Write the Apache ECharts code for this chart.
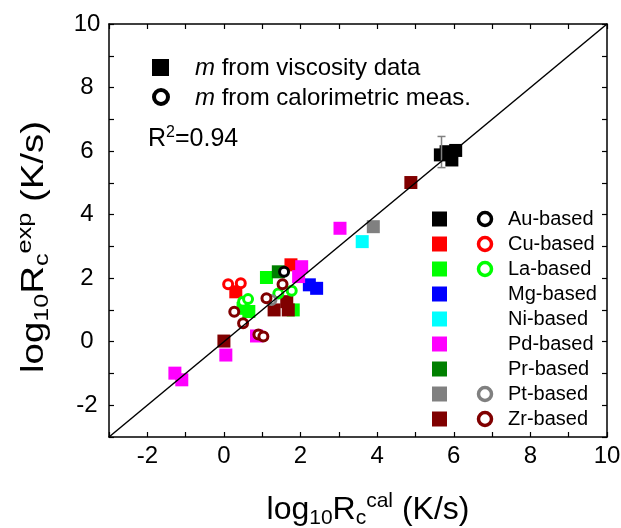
<!DOCTYPE html>
<html>
<head>
<meta charset="utf-8">
<script src="https://cdn.jsdelivr.net/npm/echarts@6/dist/echarts.min.js"></script>
<style>
  html, body { margin: 0; padding: 0; background: #fff; }
  #main { width: 621px; height: 528px; }
</style>
</head>
<body>
<div id="main"></div>
<script>
// groups of glasses, colours as in the original figure
var groups = ['Au-based', 'Cu-based', 'La-based', 'Mg-based', 'Ni-based', 'Pd-based', 'Pr-based', 'Pt-based', 'Zr-based'];
var colors = ['#000000', '#ff0000', '#00ff00', '#0000ff', '#00ffff', '#ff00ff', '#008000', '#808080', '#800000'];

// m from viscosity data  [log10Rc_cal, log10Rc_exp]
var viscAu = [[5.65, 5.88], [5.8, 5.98], [5.95, 5.72], [6.05, 6.02]];
var viscCu = [[0.31, 1.57], [1.75, 2.42]];
var viscLa = [[0.5, 1.05], [0.65, 0.95], [1.11, 2.02], [1.81, 1.0]];
var viscMg = [[2.23, 1.79], [2.42, 1.68]];
var viscNi = [[3.61, 3.15]];
var viscPd = [[-1.28, -0.99], [-1.1, -1.2], [0.05, -0.42], [0.85, 0.18], [1.95, 2.05], [2.03, 2.36], [3.03, 3.57]];
var viscPr = [[1.42, 2.2]];
var viscPt = [[3.9, 3.62]];
var viscZr = [[0.0, 0.02], [1.31, 1.0], [1.64, 1.26], [1.68, 1.0], [4.88, 5.01]];

// m from calorimetric measurements
var calAu = [[1.57, 2.2]];
var calCu = [[0.11, 1.81], [0.44, 1.84]];
var calLa = [[0.5, 1.26], [0.63, 1.34], [1.42, 1.52], [1.77, 1.6]];
var calPt = [[1.24, 1.31]];
var calZr = [[0.27, 0.94], [0.5, 0.58], [0.9, 0.23], [1.03, 0.16], [1.11, 1.37], [1.53, 1.81]];

// error bar on one Au point: [x, low, high]
var errAu = [[5.68, 5.48, 6.46]];

// y = x reference line
var lineX = [-3, 10];

var viscData = [viscAu, viscCu, viscLa, viscMg, viscNi, viscPd, viscPr, viscPt, viscZr];
var calData = [calAu, calCu, calLa, null, null, null, null, calPt, calZr];

var FONT = '"Liberation Sans", Arial, sans-serif';

var series = [];
groups.forEach(function (g, i) {
    series.push({
        name: g,
        type: 'scatter',
        symbol: 'rect',
        symbolSize: 13,
        itemStyle: { color: colors[i], opacity: 1 },
        data: viscData[i],
        z: 2
    });
});
groups.forEach(function (g, i) {
    if (!calData[i]) return;
    series.push({
        name: g + ' (cal)',
        type: 'scatter',
        symbol: 'circle',
        symbolSize: 9,
        itemStyle: { color: '#fff', borderColor: colors[i], borderWidth: 3, opacity: 1 },
        data: calData[i],
        z: 3
    });
});
series.push({
    type: 'custom',
    z: 4,
    data: errAu,
    renderItem: function (params, api) {
        var top = api.coord([api.value(0), api.value(2)]);
        var bot = api.coord([api.value(0), api.value(1)]);
        var w = 4;
        var st = { stroke: '#808080', lineWidth: 1.5 };
        return {
            type: 'group',
            children: [
                { type: 'line', shape: { x1: top[0], y1: top[1], x2: bot[0], y2: bot[1] }, style: st },
                { type: 'line', shape: { x1: top[0] - w, y1: top[1], x2: top[0] + w, y2: top[1] }, style: st },
                { type: 'line', shape: { x1: bot[0] - w, y1: bot[1], x2: bot[0] + w, y2: bot[1] }, style: st }
            ]
        };
    }
});
series.push({
    type: 'line',
    data: lineX.map(function (v) { return [v, v]; }),
    symbol: 'none',
    lineStyle: { color: '#000', width: 1.5 },
    z: 5,
    silent: true
});

function evenLabel(v) { return (Math.round(v) % 2 === 0) ? String(v) : ''; }

var axisBase = {
    type: 'value', min: -3, max: 10, interval: 1,
    axisLine: { show: true, onZero: false, lineStyle: { color: '#000', width: 1.5 } },
    axisTick: { show: true, inside: true, length: 5, lineStyle: { color: '#000', width: 1.2 } },
    splitLine: { show: false }
};

var subStyle = { fontSize: 21, fontFamily: FONT, color: '#000', padding: [17, 0, 0, 0] };
var supStyle = { fontSize: 21, fontFamily: FONT, color: '#000', padding: [0, 0, 17, 0] };

// legend built from graphic elements (two symbol columns)
var legendG = [];
var circleRows = { 0: 1, 1: 1, 2: 1, 7: 1, 8: 1 };
groups.forEach(function (g, i) {
    var y = 219 + 25 * i;
    legendG.push({ type: 'rect', shape: { x: 432, y: y - 7.5, width: 15, height: 15 }, style: { fill: colors[i] } });
    if (circleRows[i]) {
        legendG.push({ type: 'circle', shape: { cx: 485, cy: y, r: 6.5 }, style: { fill: '#fff', stroke: colors[i], lineWidth: 3.5 } });
    }
    legendG.push({ type: 'text', x: 508, y: y, style: { text: g, font: '20px ' + FONT, fill: '#000', verticalAlign: 'middle' } });
});
legendG.push({ type: 'rect', shape: { x: 152, y: 59, width: 17, height: 17 }, style: { fill: '#000' } });
legendG.push({ type: 'circle', shape: { cx: 161, cy: 97, r: 7 }, style: { fill: '#fff', stroke: '#000', lineWidth: 4 } });
legendG.push({ type: 'text', x: 195, y: 68, style: {
    text: '{i|m} from viscosity data', font: '24px ' + FONT, fill: '#000', verticalAlign: 'middle',
    rich: { i: { fontStyle: 'italic', fontSize: 24, fontFamily: FONT } } } });
legendG.push({ type: 'text', x: 195, y: 98, style: {
    text: '{i|m} from calorimetric meas.', font: '24px ' + FONT, fill: '#000', verticalAlign: 'middle',
    rich: { i: { fontStyle: 'italic', fontSize: 24, fontFamily: FONT } } } });
legendG.push({ type: 'text', x: 148, y: 139, style: {
    text: 'R{s|2}=0.94', font: '25px ' + FONT, fill: '#000', verticalAlign: 'middle',
    rich: { s: { fontSize: 16, fontFamily: FONT, padding: [0, 0, 13, 0] } } } });
// y axis title, stretched along its length like the original
legendG.push({ type: 'text', x: 34, y: 247, rotation: Math.PI / 2, scaleX: 1.2, style: {
    text: 'log{sub|10}R{sub|c}{sup|exp} (K/s)', font: '32px ' + FONT, fill: '#000',
    align: 'center', verticalAlign: 'middle', rich: { sub: subStyle, sup: supStyle } } });

var option = {
    animation: false,
    backgroundColor: '#fff',
    grid: { left: 109, right: 14, top: 24, bottom: 91, outerBoundsMode: 'none', containLabel: false },
    xAxis: [
        Object.assign({}, axisBase, {
            position: 'bottom',
            axisLabel: { formatter: evenLabel, fontSize: 24, fontFamily: FONT, color: '#000', margin: 7 },
            name: 'log{sub|10}R{sub|c}{sup|cal} (K/s)',
            nameLocation: 'middle',
            nameGap: 54,
            nameTextStyle: { fontSize: 32, fontFamily: FONT, color: '#000', padding: [0, 0, 0, 20],
                rich: { sub: subStyle, sup: supStyle } }
        }),
        Object.assign({}, axisBase, { position: 'top', axisLabel: { show: false } })
    ],
    yAxis: [
        Object.assign({}, axisBase, {
            position: 'left',
            axisLabel: { formatter: evenLabel, fontSize: 24, fontFamily: FONT, color: '#000', margin: 22, align: 'center' }
        }),
        Object.assign({}, axisBase, { position: 'right', axisLabel: { show: false } })
    ],
    graphic: legendG,
    series: series
};

var chart = echarts.init(document.getElementById('main'), null, { renderer: 'canvas' });
chart.setOption(option);
</script>
</body>
</html>
